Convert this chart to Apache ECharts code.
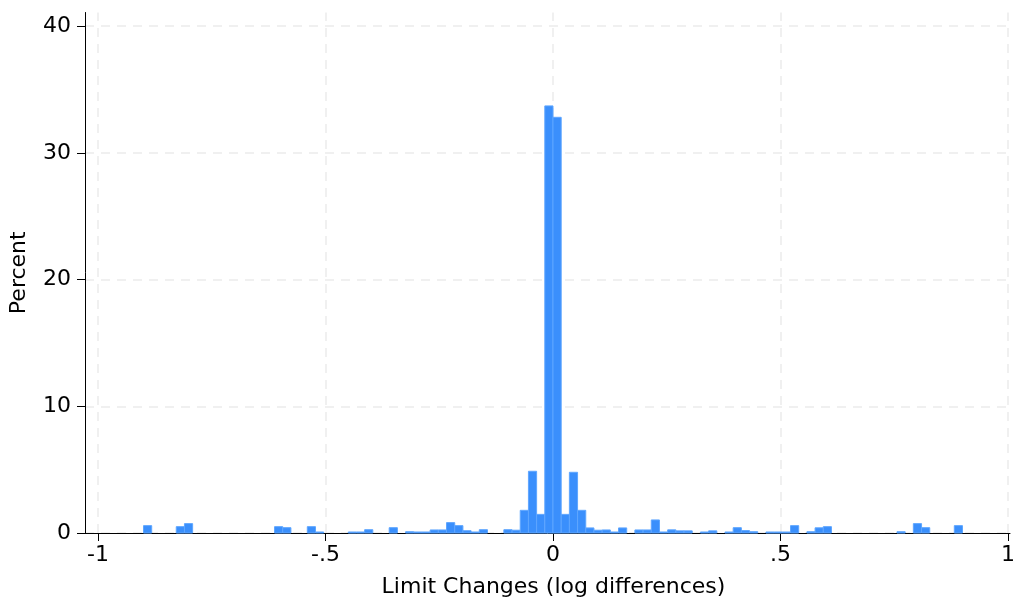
<!DOCTYPE html>
<html>
<head>
<meta charset="utf-8">
<script src="https://cdn.jsdelivr.net/npm/echarts@6/dist/echarts.min.js"></script>
<style>
html,body{margin:0;padding:0;background:#fff;}
#chart{width:1013px;height:597px;}
</style>
</head>
<body>
<div id="chart"></div>
<script>
// Histogram bins: 100 bins of width 0.018 starting at -0.9
var binStart = -0.9;
var binWidth = 0.018;
var percent = [
  0.58, 0, 0, 0, 0.5, 0.74, 0, 0, 0, 0,
  0, 0, 0, 0, 0, 0, 0.5, 0.42, 0, 0,
  0.5, 0.08, 0, 0, 0, 0.08, 0.08, 0.26, 0, 0,
  0.42, 0, 0.1, 0.08, 0.08, 0.24, 0.24, 0.82, 0.58, 0.18,
  0.08, 0.26, 0, 0, 0.26, 0.22, 1.79, 4.87, 1.47, 33.7,
  32.8, 1.47, 4.79, 1.79, 0.4, 0.22, 0.24, 0.08, 0.4, 0,
  0.24, 0.24, 1.03, 0.08, 0.25, 0.17, 0.17, 0, 0.08, 0.17,
  0, 0.08, 0.42, 0.19, 0.1, 0, 0.08, 0.08, 0.08, 0.58,
  0, 0.1, 0.41, 0.5, 0, 0, 0, 0, 0, 0,
  0, 0, 0.1, 0, 0.74, 0.42, 0, 0, 0, 0.58
];
var xTicks = [-1, -0.5, 0, 0.5, 1];
var xTickLabels = ['-1', '-.5', '0', '.5', '1'];
var yTicks = [0, 10, 20, 30, 40];

var data = percent.map(function (v, i) {
  var x0 = binStart + i * binWidth;
  return [x0, x0 + binWidth, v];
});

var chart = echarts.init(document.getElementById('chart'));
var font = 'DejaVu Sans';
var fs = 22;
var gridColor = '#ebebeb';

chart.setOption({
  animation: false,
  backgroundColor: '#ffffff',
  grid: { left: 85, right: 3, top: 12.5, bottom: 64, containLabel: false, outerBoundsMode: 'none' },
  xAxis: {
    type: 'value',
    min: -1.02857,
    max: 1.0044,
    name: 'Limit Changes (log differences)',
    nameLocation: 'middle',
    nameGap: 43,
    nameTextStyle: { fontFamily: font, fontSize: fs, color: '#000', padding: [0, 0, 0, 12] },
    axisLine: { show: true, onZero: false, lineStyle: { color: '#000', width: 1 } },
    axisTick: { show: true, length: 8, customValues: xTicks, lineStyle: { color: '#000', width: 1 } },
    axisLabel: {
      customValues: xTicks,
      fontFamily: font, fontSize: fs, color: '#000', margin: 11,
      formatter: function (v) {
        var idx = xTicks.indexOf(Math.round(v * 100) / 100);
        return idx >= 0 ? xTickLabels[idx] : '';
      }
    },
    splitLine: { show: false }
  },
  yAxis: {
    type: 'value',
    min: 0,
    max: 41.07,
    interval: 10,
    name: 'Percent',
    nameLocation: 'middle',
    nameGap: 55,
    nameTextStyle: { fontFamily: font, fontSize: fs, color: '#000' },
    axisLine: { show: true, onZero: false, lineStyle: { color: '#000', width: 1 } },
    axisTick: { show: true, length: 8, customValues: yTicks, lineStyle: { color: '#000', width: 1 } },
    axisLabel: { customValues: yTicks, fontFamily: font, fontSize: fs, color: '#000', margin: 14 },
    splitLine: { show: true, lineStyle: { color: gridColor, width: 1.5, type: [9, 7] } }
  },
  series: [{
    type: 'custom',
    data: data,
    encode: { x: [0, 1], y: 2 },
    renderItem: function (params, api) {
      var v = api.value(2);
      if (!v) return null;
      var p0 = api.coord([api.value(0), v]);
      var p1 = api.coord([api.value(1), 0]);
      return {
        type: 'rect',
        shape: { x: p0[0], y: p0[1], width: p1[0] - p0[0], height: p1[1] - p0[1] },
        style: { fill: '#3a8ffc', stroke: '#5ea6ff', lineWidth: 1 }
      };
    },
    markLine: {
      silent: true,
      symbol: 'none',
      label: { show: false },
      lineStyle: { color: gridColor, width: 1.5, type: [9, 7] },
      z: 0,
      data: xTicks.map(function (t) { return { xAxis: t }; })
    },
    z: 2
  }]
});
</script>
</body>
</html>
